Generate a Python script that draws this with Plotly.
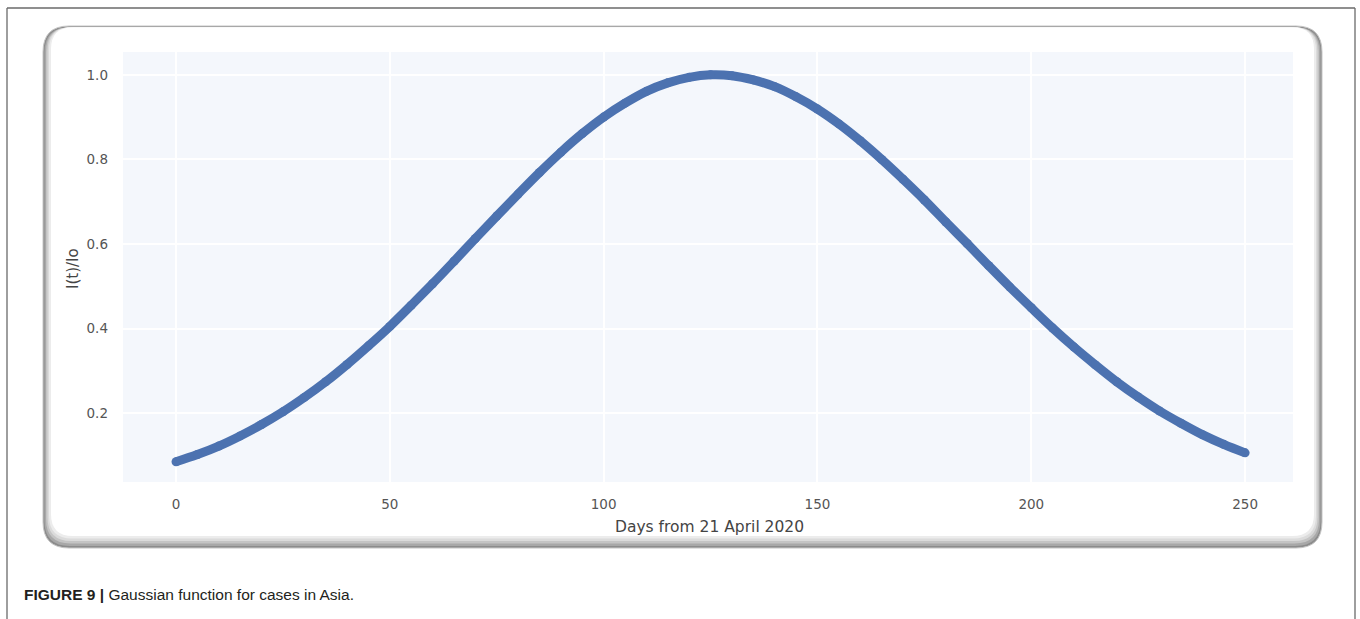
import plotly.graph_objects as go

# Normalised Gaussian fit for Asia, sampled every 5 days
days = [0, 5, 10, 15, 20, 25, 30, 35, 40, 45, 50, 55, 60, 65, 70, 75, 80, 85, 90,
        95, 100, 105, 110, 115, 120, 125, 130, 135, 140, 145, 150, 155, 160, 165,
        170, 175, 180, 185, 190, 195, 200, 205, 210, 215, 220, 225, 230, 235, 240,
        245, 250]
ratio = [0.085, 0.102, 0.122, 0.146, 0.173, 0.203, 0.237, 0.274, 0.315, 0.359,
         0.405, 0.455, 0.506, 0.559, 0.613, 0.666, 0.718, 0.769, 0.817, 0.861,
         0.900, 0.933, 0.961, 0.981, 0.994, 1.000, 0.998, 0.988, 0.972, 0.948,
         0.919, 0.884, 0.844, 0.800, 0.753, 0.704, 0.652, 0.601, 0.549, 0.498,
         0.449, 0.401, 0.356, 0.314, 0.274, 0.238, 0.205, 0.176, 0.149, 0.126,
         0.106]

x_ticks = [0, 50, 100, 150, 200, 250]
y_ticks = [0.2, 0.4, 0.6, 0.8, 1.0]
y_tick_text = ["0.2", "0.4", "0.6", "0.8", "1.0"]

x_title = "Days from 21 April 2020"
y_title = "I(t)/Io"
caption_bold = "FIGURE 9 |"
caption_text = " Gaussian function for cases in Asia."

W, H = 1360, 619
LINE_BLUE = "#4C72B0"
PLOT_BG = "#F4F7FC"
TICK_GREY = "#555555"


def px(x):
    return x / W


def py(y):
    return 1 - y / H


def rounded_rect(x0, y0, x1, y1, r):
    pts = [
        ("M", [(x0 + r, y0)]),
        ("L", [(x1 - r, y0)]),
        ("Q", [(x1, y0), (x1, y0 + r)]),
        ("L", [(x1, y1 - r)]),
        ("Q", [(x1, y1), (x1 - r, y1)]),
        ("L", [(x0 + r, y1)]),
        ("Q", [(x0, y1), (x0, y1 - r)]),
        ("L", [(x0, y0 + r)]),
        ("Q", [(x0, y0), (x0 + r, y0)]),
    ]
    parts = []
    for cmd, coords in pts:
        parts.append(cmd + " " + " ".join(f"{px(a):.5f},{py(b):.5f}" for a, b in coords))
    return " ".join(parts) + " Z"


shapes = []

# outer page frame
shapes.append(dict(type="line", xref="paper", yref="paper", x0=px(7), x1=px(7),
                   y0=py(8), y1=py(640), line=dict(color="#6a6a6a", width=1.3), layer="below"))
shapes.append(dict(type="line", xref="paper", yref="paper", x0=px(7), x1=px(1355),
                   y0=py(8), y1=py(8), line=dict(color="#6a6a6a", width=1.3), layer="below"))
shapes.append(dict(type="line", xref="paper", yref="paper", x0=px(1355), x1=px(1355),
                   y0=py(8), y1=py(640), line=dict(color="#6a6a6a", width=1.3), layer="below"))

# raised rounded panel with soft inner shading on the sides and bottom
bx0, by0, bx1, by1, br = 43, 26, 1322, 548, 26
panel_layers = [
    (0.0, 0.0, 0.0, "#8c8c8c"),
    (1.5, 1.5, 2.0, "#a8a8a8"),
    (3.0, 3.0, 4.5, "#c4c4c4"),
    (4.5, 4.5, 7.0, "#dbdbdb"),
    (6.0, 6.0, 9.5, "#ececec"),
    (8.0, 8.0, 12.0, "#ffffff"),
]
for i, (dl, dr, db, col) in enumerate(panel_layers):
    shapes.append(dict(
        type="path", xref="paper", yref="paper",
        path=rounded_rect(bx0 + dl, by0 + (0 if i == 0 else 1.2), bx1 - dr, by1 - db, br - dl * 0.5),
        fillcolor=col,
        line=dict(color="#c6c6c6" if i == 0 else col, width=1 if i == 0 else 0),
        layer="below",
    ))

# plot area background
PX0, PX1, PY0, PY1 = 123, 1293, 52, 482
shapes.append(dict(type="rect", xref="paper", yref="paper",
                   x0=px(PX0), x1=px(PX1), y0=py(PY1), y1=py(PY0),
                   fillcolor=PLOT_BG, line=dict(width=0), layer="below"))

fig = go.Figure()
fig.add_trace(go.Scatter(
    x=days, y=ratio, mode="lines+markers",
    line=dict(color=LINE_BLUE, width=9, shape="spline", smoothing=1.0),
    marker=dict(color=LINE_BLUE, size=9),
    showlegend=False, hoverinfo="skip",
))

annotations = [
    dict(x=px(709), y=py(527), xref="paper", yref="paper", text=x_title,
         showarrow=False, xanchor="center", yanchor="middle",
         font=dict(family="DejaVu Sans", size=15.5, color="#444444")),
    dict(x=px(73), y=py(269), xref="paper", yref="paper", text=y_title,
         showarrow=False, xanchor="center", yanchor="middle", textangle=-90,
         font=dict(family="DejaVu Sans", size=15, color="#444444")),
    dict(x=px(22), y=py(594), xref="paper", yref="paper",
         text=f"<b>{caption_bold}</b>{caption_text}",
         showarrow=False, xanchor="left", yanchor="middle",
         font=dict(family="Liberation Sans, Arial, sans-serif", size=15.5, color="#231f20")),
]

fig.update_layout(
    width=W, height=H,
    margin=dict(l=0, r=0, t=0, b=0),
    paper_bgcolor="white",
    plot_bgcolor="rgba(0,0,0,0)",
    shapes=shapes,
    annotations=annotations,
    xaxis=dict(
        domain=[px(PX0), px(PX1)], range=[-12.4, 261.2],
        tickvals=x_ticks, ticktext=[str(v) for v in x_ticks],
        showgrid=True, gridcolor="#ffffff", gridwidth=1.5,
        zeroline=False, showline=False, ticks="",
        ticklabelstandoff=12,
        tickfont=dict(family="DejaVu Sans", size=13.5, color=TICK_GREY),
    ),
    yaxis=dict(
        domain=[py(PY1), py(PY0)], range=[0.037, 1.054],
        tickvals=y_ticks, ticktext=y_tick_text,
        showgrid=True, gridcolor="#ffffff", gridwidth=1.5,
        zeroline=False, showline=False, ticks="",
        ticklabelstandoff=14,
        tickfont=dict(family="DejaVu Sans", size=13.5, color=TICK_GREY),
    ),
)

fig.write_html("out.html")
